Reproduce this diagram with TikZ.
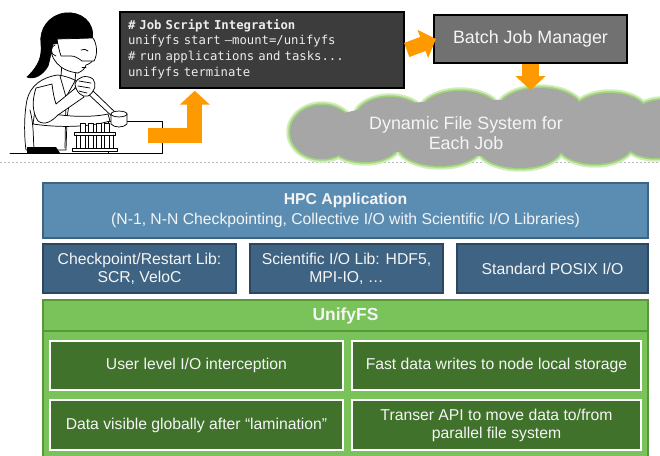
\documentclass[tikz,border=0pt]{standalone}
\usepackage{fontspec}
\setmainfont{Liberation Sans}
\newfontfamily\codefont{DejaVu Sans Mono}
\usetikzlibrary{calc,arrows.meta}

\definecolor{codebg}{HTML}{3C3C3C}
\definecolor{codetext}{HTML}{EDEDED}
\definecolor{batchbg}{HTML}{717171}
\definecolor{cloudbg}{HTML}{A6A6A6}
\definecolor{glowout}{HTML}{D0ECBA}
\definecolor{glowin}{HTML}{9FD47A}
\definecolor{flow}{HTML}{FF9900}
\definecolor{hpcbg}{HTML}{5B8DB3}
\definecolor{hpcline}{HTML}{3F6482}
\definecolor{libbg}{HTML}{3F6382}
\definecolor{libline}{HTML}{2B4860}
\definecolor{unifybg}{HTML}{7AC25A}
\definecolor{unifyline}{HTML}{57983B}
\definecolor{featbg}{HTML}{40722B}
\definecolor{soft}{HTML}{F5F5F5}

\newcommand\fsz[2]{\fontsize{#1}{#2}\selectfont}

\tikzset{
  % a rectangle given by its corners (left, top, right, bottom) in pixels
  spanbox/.style n args={4}{minimum width={(#3-#1)*0.75pt}, minimum height={(#4-#2)*0.75pt},
    at={({(#1+#3)/2},{(#2+#4)/2})}},
  box/.style={rectangle, inner sep=0pt, align=center, text=soft},
  codebox/.style={box, fill=codebg, draw=black, line width=1.1pt},
  batchbox/.style={box, fill=batchbg, draw=black, line width=1.1pt, font=\fsz{13.4}{16}},
  hpcbox/.style={box, fill=hpcbg, draw=hpcline, line width=0.8pt, font=\fsz{11.8}{14.8}},
  libbox/.style={box, fill=libbg, draw=libline, line width=0.8pt, font=\fsz{11.8}{13.6}},
  unifybox/.style={box, fill=unifybg, draw=unifyline, line width=0.8pt},
  featbox/.style={box, fill=featbg, draw=white, line width=1.2pt, font=\fsz{11.8}{13.6}},
  flowarrow/.style={draw=flow, line width=11.25pt, line join=miter,
    -{Triangle[length=10.5pt, width=22pt]}},
  ink/.style={draw=black, line width=0.55pt, line join=round, line cap=round},
}

\begin{document}
\begin{tikzpicture}[x=0.75pt, y=-0.75pt]
\useasboundingbox (0,0) rectangle (660,455);
\begin{scope}
\clip (0,0) rectangle (660,455);

% separator between the job workflow and the software stack
\draw[gray!55, line width=0.5pt, dash pattern=on 1.5pt off 1.5pt] (0,162) -- (660,162);

% ---------- scientist at the lab bench ----------
\begin{scope}[ink]
  % bench box
  \filldraw[fill=white] (108,121) rectangle (162,153);
  % lab coat
  \filldraw[fill=white] (58,75) .. controls (42,77) and (30,86) .. (27,100)
     .. controls (24,115) and (24,135) .. (26,150) -- (66,150) -- (67,120)
     .. controls (68,105) and (72,92) .. (78,82) .. controls (72,78) and (65,76) .. (58,75) -- cycle;
  \draw (60,76) -- (66,97) -- (75,81);
  \draw (66,97) -- (65,148);
  \draw (30,110) .. controls (34,125) and (33,138) .. (34,148);
  % far arm reaching to the dish
  \filldraw[fill=white] (35,110) .. controls (60,117) and (90,118) .. (108,114) -- (110,121)
     .. controls (90,127) and (60,128) .. (33,124) -- cycle;
  % near arm, bent at the elbow
  \filldraw[fill=white] (36,88) .. controls (32,100) and (32,112) .. (38,121)
     .. controls (45,126) and (52,121) .. (58,115) -- (84,97) -- (78,86) -- (56,104)
     .. controls (54,98) and (53,92) .. (52,84) -- cycle;
  % pipette
  \filldraw[fill=white] (86,92) -- (90,88) -- (119,116) -- (116,120) -- cycle;
  \draw (117,119) -- (120,124);
  % clasped hands
  \filldraw[fill=white] (75,84) .. controls (77,77) and (86,74) .. (93,79)
     .. controls (97,84) and (95,92) .. (88,96) .. controls (82,98) and (76,92) .. (75,84) -- cycle;
  \draw (79,81) -- (91,83) (78,86) -- (90,88) (79,91) -- (87,93);
  % neck
  \draw (62,63) -- (61,76) (76,70) -- (75,81);
  % face
  \filldraw[fill=white] (50,40) .. controls (49,60) and (60,71) .. (78,73)
     .. controls (82,71) and (85,69) .. (86,65) .. controls (89,64) and (93,62) .. (94,58)
     -- (94,40) -- cycle;
  \draw (55,45) .. controls (50,46) and (50,55) .. (56,56);
  \draw (82,67) -- (86,67);
  % hair and ponytail
  \filldraw[fill=black] (92,40) .. controls (96,22) and (80,11) .. (65,13)
     .. controls (49,15) and (39,29) .. (41,44) .. controls (42,55) and (40,65) .. (27,77)
     .. controls (34,80) and (43,75) .. (48,66) .. controls (50,60) and (51,51) .. (53,44) -- cycle;
  % safety goggles
  \filldraw[fill=white] (57,39) -- (93,38) .. controls (97,44) and (98,54) .. (94,61) -- (82,61)
     .. controls (78,58) and (75,56) .. (71,56) -- (61,56) .. controls (59,50) and (58,45) .. (57,39) -- cycle;
  \draw (81,50) .. controls (84,49) and (86,49) .. (88,51);
  % dish held under the pipette
  \filldraw[fill=white] (111,114) -- (111,124) .. controls (114,128) and (124,128) .. (127,124) -- (127,114) -- cycle;
  \filldraw[fill=white] (119,114) ellipse[x radius=6pt, y radius=2.2pt];
  % test tubes in a rack
  \foreach \tx in {80,88,96,104}
    \filldraw[fill=white] (\tx,123) rectangle (\tx+5,148);
  \filldraw[fill=white] (74,132) rectangle (115,135);
  \filldraw[fill=white] (72,148) rectangle (117,151);
  \draw (76,135) -- (76,148) (113,135) -- (113,148);
  % table top and shadow under the stool
  \fill[black] (27,147) -- (56,147) -- (60,153) -- (27,153) -- cycle;
  \draw (10,153) -- (162,153);
\end{scope}
\coordinate (bench) at (148,135);

% ---------- job script and batch manager ----------
\node[codebox, spanbox={120}{12}{404}{88}] (code) {};
\node[text width=201pt, align=left, text=codetext, inner sep=0pt,
      font=\codefont\fsz{9.2}{11.8}] at ($(code.center)+(0,-1)$)
  {\textbf{\# Job Script Integration}\\
   unifyfs start –mount=/unifyfs\\
   \# run applications and tasks...\\
   unifyfs terminate};

\node[batchbox, spanbox={434}{15}{627}{63}] (batch) {Batch Job Manager};

% ---------- dynamic file system cloud ----------
\def\lobes{322/132/32/27, 390/119/35/22, 460/113/40/22, 540/110/42/22, 610/115/38/22,
           662/122/32/22, 365/142/35/20, 440/145/42/21, 520/147/42/21, 595/143/38/21, 655/138/32/20}
\foreach \cx/\cy/\rx/\ry in \lobes
  \fill[glowout] (\cx,\cy) ellipse[x radius=\rx*0.75pt+2.8pt, y radius=\ry*0.75pt+2.8pt];
\foreach \cx/\cy/\rx/\ry in \lobes
  \fill[glowin] (\cx,\cy) ellipse[x radius=\rx*0.75pt+1.3pt, y radius=\ry*0.75pt+1.3pt];
\foreach \cx/\cy/\rx/\ry in \lobes
  \fill[cloudbg] (\cx,\cy) ellipse[x radius=\rx*0.75pt, y radius=\ry*0.75pt];
\fill[cloudbg] (485,128) ellipse[x radius=125pt, y radius=21pt];
\node[text=soft, align=center, font=\fsz{13.4}{15}] (cloud) at (466,133)
  {Dynamic File System for\\Each Job};
\coordinate (cloudtop) at (530.5,90);

% ---------- workflow arrows ----------
\draw[flowarrow] (bench) -| ($(code.south west)+(75.5,2)$);
\draw[flowarrow] ([xshift=1.5pt]code.east) -- ([xshift=2pt]batch.west);
\draw[flowarrow, line width=12.5pt] (batch.south) -- (batch.south |- cloudtop);

% ---------- software stack ----------
\node[hpcbox, spanbox={43}{183}{648}{238}] (hpc)
  {\textbf{HPC Application}\\(N-1, N-N Checkpointing, Collective I/O with Scientific I/O Libraries)};

\node[libbox, spanbox={43}{244}{236}{293}] (scr) {Checkpoint/Restart Lib:\\SCR, VeloC};
\node[libbox, spanbox={250}{244}{443}{293}] (sio) {Scientific I/O Lib: HDF5,\\MPI-IO, \dots};
\node[libbox, spanbox={457}{244}{648}{293}] (posix) {Standard POSIX I/O};

\node[unifybox, spanbox={43}{331}{648}{470}] (unifybody) {};
\node[unifybox, spanbox={43}{300}{648}{331}, font=\bfseries\fsz{13.1}{15}] (unify) {UnifyFS};

\node[featbox, spanbox={50}{341}{343}{390}] (intercept) {User level I/O interception};
\node[featbox, spanbox={352}{341}{641}{390}] (fastwrite) {Fast data writes to node local storage};
\node[featbox, spanbox={50}{400}{343}{450}] (lamination) {Data visible globally after “lamination”};
\node[featbox, spanbox={352}{400}{641}{450}] (transfer) {Transer API to move data to/from\\parallel file system};
\end{scope}
\end{tikzpicture}
\end{document}
